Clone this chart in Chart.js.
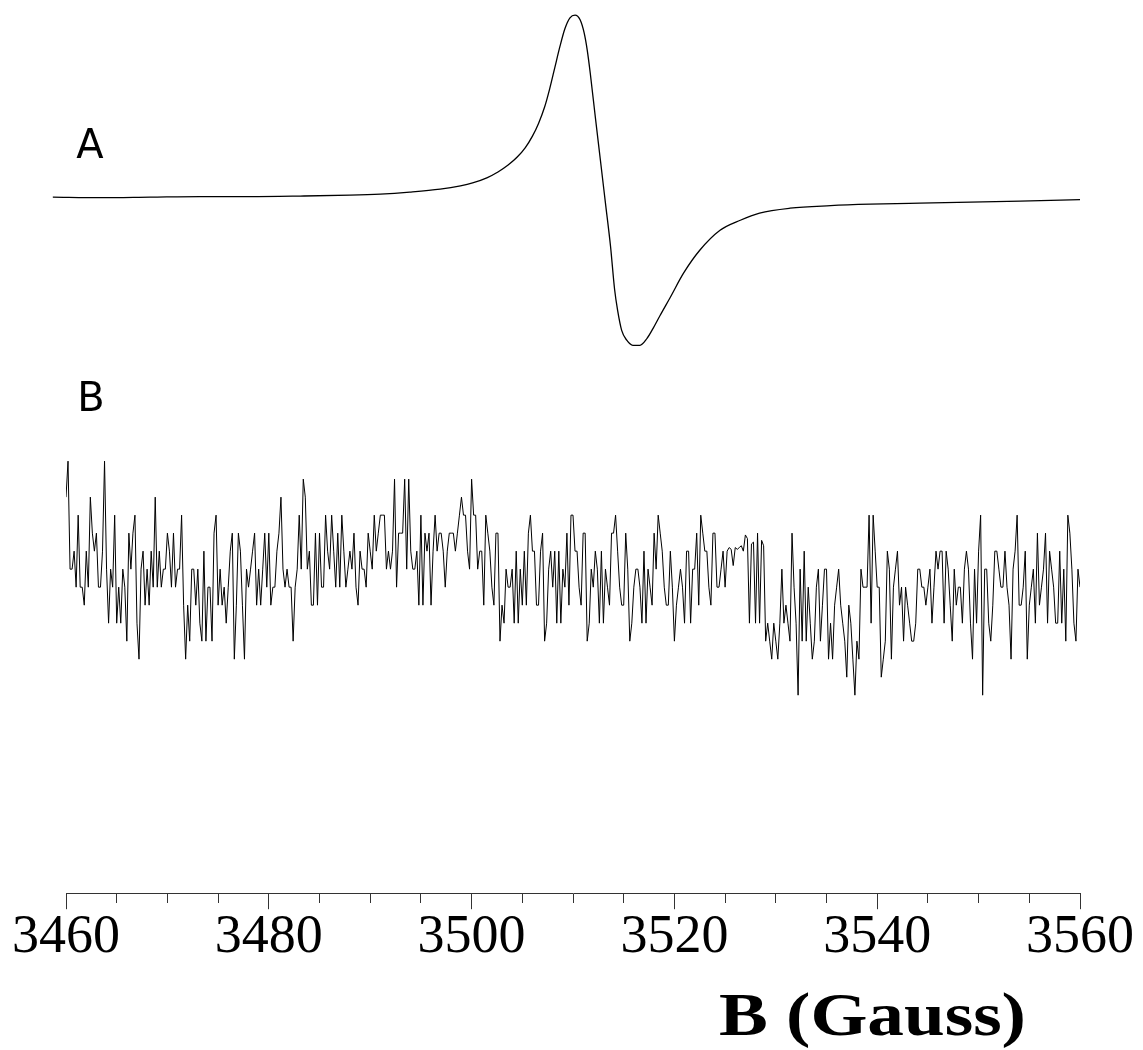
<!DOCTYPE html>
<html>
<head>
<meta charset="utf-8">
<script src="https://cdn.jsdelivr.net/npm/chart.js@4.4.0/dist/chart.umd.min.js"></script>
<style>
  body { margin: 0; background: #fff; }
  canvas { display: block; }
</style>
</head>
<body>
<canvas id="eprChart" width="1143" height="1050"></canvas>
<script>
// Trace A: field (G) and derivative signal (arb. units, peak = 100)
const fieldA = [3458.7, 3463.4, 3468.3, 3473.2, 3478.1, 3483.1, 3488.0, 3491.0, 3493.9, 3496.9,
  3498.9, 3500.1, 3501.5, 3502.6, 3503.6, 3504.5, 3505.3, 3506.0, 3506.6, 3507.2,
  3507.7, 3508.2, 3508.7, 3509.2, 3509.7, 3510.2, 3510.7, 3511.1, 3511.4, 3511.7,
  3512.2, 3512.7, 3513.2, 3513.7, 3514.1, 3514.4, 3514.8, 3515.3, 3515.9, 3516.6,
  3517.3, 3517.9, 3518.6, 3519.6, 3520.9, 3522.5, 3524.5, 3526.5, 3528.4, 3531.4,
  3535.4, 3539.3, 3544.2, 3549.2, 3554.1, 3560.0];
const signalA = [0, -0.3, 0, 0.3, 0.3, 0.6, 1.1, 1.7, 2.8, 4.4,
  6.2, 7.8, 10.6, 13.8, 17.6, 22.0, 27.2, 33.5, 40.5, 49.5,
  59.5, 71.0, 82.5, 92.5, 98.5, 100, 97.4, 90.2, 80.9, 68.2,
  44.0, 20.4, -3.3, -27.0, -50.6, -62.2, -73.2, -78.6, -81.4, -81.4,
  -77.6, -72.1, -64.9, -55.0, -41.8, -29.2, -18.2, -12.7, -8.8, -6.1,
  -4.7, -3.9, -3.3, -2.8, -2.2, -1.4];

// Trace B: sweep 3460 -> 3560 G, 0.2 G per point, digitiser levels
const sweepStartB = 3460;
const sweepStepB = 0.2;
const levelsB = [
  5,7,1,1,2,0,4,0,0,-1, 2,0,5,3,2,3,0,0,2,7, 1,-2,1,0,4,-2,0,-2,1,0, -3,3,1,3,4,-2,-4,1,2,-1, 1,-1,2,0,5,0,2,0,1,1,
  3,2,0,3,0,1,1,4,-1,-4, -1,-3,1,1,-1,1,-2,-3,2,-3, 0,0,-3,3,4,-1,1,-1,0,-2, 0,2,3,-4,-1,3,2,-1,-4,1, 0,1,2,3,-1,1,-1,1,3,0,
  3,-1,0,0,2,3,5,1,0,1, 0,0,-3,0,1,4,1,6,5,1, 2,-1,-1,3,-1,3,0,0,4,2, 1,4,2,0,3,0,4,2,0,1, 2,1,3,0,-1,2,1,1,0,3,
  2,1,4,2,3,4,4,4,1,2, 1,2,6,0,3,3,3,6,1,6, 2,1,1,2,-1,4,-1,3,2,3, -1,2,4,2,3,3,2,0,2,3, 3,3,2,3,4,5,4,4,2,1,
  6,4,4,1,2,2,-1,4,3,2, 0,-1,3,3,-3,-1,-2,1,0,0, 1,-2,2,-2,1,-1,2,-1,3,4, 2,2,-1,-1,2,3,-3,-2,1,2, 0,2,-2,2,-2,1,0,3,-1,4,
  4,2,2,0,-1,3,3,-3,-2,1, 0,2,1,-2,2,-2,1,0,-1,3, 3,4,2,0,-1,-1,3,1,-3,-2, 0,1,1,0,-2,2,-2,1,0,-1, 3,1,4,3,2,0,-1,-1,2,0,
  -3,-1,0,1,0,-2,2,2,-2,1, 1,3,-1,4,3,2,2,0,-1,3, 3,0,0,1,2,0,2,2.2,2.1,1.2, 2.2,2.1,2.2,2.3,2.0,2.9,2.7,-2,2.4,2.5, -2,3,-2,2.6,2.3,-3,-2,-3,-4,-2,
  -3,-4,-2,1,-2,-1,-2,-3,3,0, -2,-6,1,-3,2,-3,0,-2,-4,-3, 0,1,-3,-1,1,1,-4,-2,-4,-1, 0,1,-1,-2,-3,-5,-1,-2,-4,-6, -3,-4,1,0,0,0,4,-2,4,2,
  0,0,-5,-4,-3,2,1,-4,0,1, 2,-1,0,-3,0,-1,-2,-3,-3,-2, 1,1,0,0,-1,0,1,-2,0,2, 1,2,2,-2,2,1,-1,-3,1,-1, 0,0,-2,1,2,1,-2,-4,1,-2,
  2,4,-6,1,1,-2,-3,-1,2,2, 1,0,0,2,0,-1,-4,1,2,4, -1,-1,0,2,-4,-1,0,1,-2,3, -1,0,1,3,-2,2,1,0,-2,-2, 2,-2,1,-3,4,3,1,-2,-3,1,
  0
];

const axisMin = 3460;
const axisMax = 3560;
const tickStep = 5;
const labelEvery = 20;

const pointsA = fieldA.map((f, i) => ({ x: f, y: signalA[i] }));
const pointsB = levelsB.map((v, i) => ({ x: sweepStartB + i * sweepStepB, y: v }));

// labels "A", "B" and the axis title
const textPlugin = {
    id: 'eprText',
    afterDraw(chart) {
        const { ctx, scales } = chart;
        const x = scales.x;
        ctx.save();
        ctx.fillStyle = '#000';
        ctx.textBaseline = 'alphabetic';
        ctx.textAlign = 'left';
        ctx.font = '40px "DejaVu Sans"';
        ctx.fillText('A', x.getPixelForValue(3461), scales.yA.getPixelForValue(21.4));
        ctx.fillText('B', x.getPixelForValue(3461.1), scales.yB.getPixelForValue(9.8));

        ctx.font = 'bold 61px "Liberation Serif"';
        ctx.translate(x.right - 54, 1035);
        ctx.scale(1.2, 1);
        ctx.textAlign = 'right';
        ctx.fillText('B (Gauss)', 0, 0);
        ctx.restore();
    }
};

const ctx = document.getElementById('eprChart').getContext('2d');
const chart = new Chart(ctx, {
    type: 'line',
    data: {
        datasets: [{
            label: 'A',
            data: pointsA,
            yAxisID: 'yA',
            borderColor: '#000',
            borderWidth: 1.3,
            pointRadius: 0,
            cubicInterpolationMode: 'monotone',
            clip: false,
        }, {
            label: 'B',
            data: pointsB,
            yAxisID: 'yB',
            borderColor: '#000',
            borderWidth: 1,
            pointRadius: 0,
            tension: 0,
        }],
    },
    options: {
        responsive: false,
        animation: false,
        layout: {
            padding: { left: 66, right: 63, top: 10, bottom: 84 },
        },
        plugins: {
            legend: { display: false },
            tooltip: { enabled: false },
        },
        scales: {
            x: {
                type: 'linear',
                min: axisMin,
                max: axisMax,
                border: { display: true, color: '#333', width: 1 },
                grid: {
                    drawOnChartArea: false,
                    drawTicks: true,
                    tickLength: 16,
                    tickColor: '#333',
                    tickWidth: 1,
                    tickBorderDash: (c) => (c.tick && c.tick.value % labelEvery === 0 ? [] : [9, 30]),
                },
                ticks: {
                    stepSize: tickStep,
                    autoSkip: false,
                    maxRotation: 0,
                    padding: -4,
                    color: '#000',
                    font: { family: '"Liberation Serif", "Times New Roman", serif', size: 54 },
                    callback: (v) => (v % labelEvery === 0 ? String(v) : ''),
                },
            },
            yA: {
                type: 'linear',
                display: false,
                min: -382.4,
                max: 102.8,
            },
            yB: {
                type: 'linear',
                display: false,
                min: -17.0,
                max: 32.06,
            },
        },
    },
    plugins: [textPlugin],
});
</script>
</body>
</html>
